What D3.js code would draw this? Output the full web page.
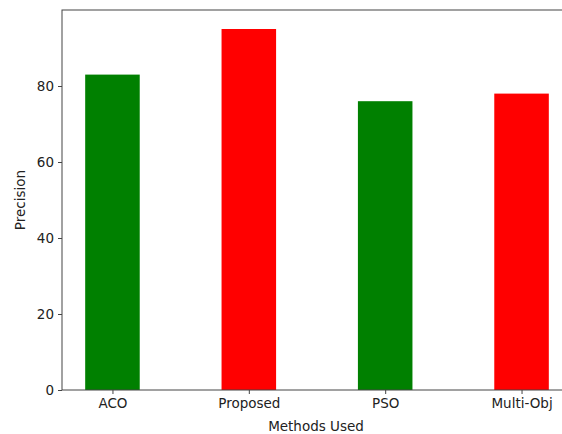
<!DOCTYPE html>
<html><head><meta charset="utf-8">
<script src="https://cdn.jsdelivr.net/npm/d3@7"></script>
<style>body{margin:0;background:#fff}svg{display:block}text{font-family:"DejaVu Sans",sans-serif;fill:#222}</style>
</head><body>
<script>
const categories = ["ACO", "Proposed", "PSO", "Multi-Obj"];
const values = [83, 95, 76, 78];
const colors = ["#008000", "#ff0000", "#008000", "#ff0000"];
const yTicks = [0, 20, 40, 60, 80];

(function () {
const W = 562, H = 434;
const mLeft = 62, mTop = 10, mBottom = 390, mRight = 572;
const fs = "13.5px";
const svg = d3.select("body").append("svg").attr("width", W).attr("height", H);

const x = d3.scaleLinear().domain([-0.37, 3.37]).range([mLeft, mRight]);
const y = d3.scaleLinear().domain([0, 100]).range([mBottom, mTop]);
const bw = 0.4;

svg.selectAll("rect.bar").data(values).enter().append("rect")
  .attr("class", "bar")
  .attr("x", (d, i) => x(i - bw / 2))
  .attr("width", (d, i) => x(i + bw / 2) - x(i - bw / 2))
  .attr("y", d => y(d))
  .attr("height", d => y(0) - y(d))
  .attr("fill", (d, i) => colors[i]);

const yAxis = d3.axisLeft(y).tickValues(yTicks).tickSize(4).tickPadding(4).tickFormat(d3.format("d"));
const gy = svg.append("g").attr("transform", `translate(${mLeft},0)`).call(yAxis);
gy.select(".domain").remove();
gy.selectAll("line").attr("stroke", "#444");
gy.selectAll("text").style("font-size", fs).attr("fill", "#222");

const xAxis = d3.axisBottom(x).tickValues(d3.range(categories.length)).tickFormat(i => categories[i]).tickSize(4).tickPadding(4);
const gx = svg.append("g").attr("transform", `translate(0,${mBottom})`).call(xAxis);
gx.select(".domain").remove();
gx.selectAll("line").attr("stroke", "#444");
gx.selectAll("text").style("font-size", fs).attr("fill", "#222");

svg.append("rect").attr("x", mLeft).attr("y", mTop).attr("width", mRight - mLeft).attr("height", mBottom - mTop)
  .attr("fill", "none").attr("stroke", "#444").attr("stroke-width", 1);

svg.append("text").attr("x", 316).attr("y", 431).attr("text-anchor", "middle")
  .style("font-size", fs).text("Methods Used");
svg.append("text").attr("transform", `translate(25,${(mTop + mBottom) / 2}) rotate(-90)`).attr("text-anchor", "middle")
  .style("font-size", fs).text("Precision");
})();
</script>
</body></html>
